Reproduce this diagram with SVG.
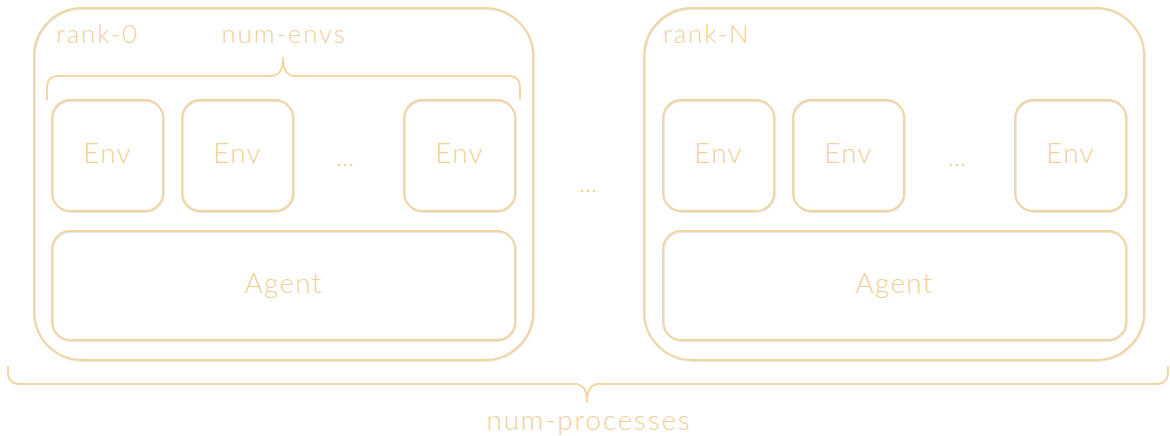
<svg xmlns="http://www.w3.org/2000/svg" width="1170" height="436" viewBox="0 0 1170 436">
  <defs>
    <filter id="shade" x="-5%" y="-5%" width="110%" height="110%">
      <feDropShadow dx="0.7" dy="0.7" stdDeviation="0.25" flood-color="#a89f92" flood-opacity="0.35"/>
    </filter>
  </defs>
  <style>
    .box { fill: none; stroke: #f0d5a0; stroke-width: 1.8; filter: url(#shade); }
    .brace { fill: none; stroke: #f2d7a3; stroke-width: 2; stroke-linejoin: round; }
    .lbl { fill: #efd09a; font-family: "Lato", "Open Sans", sans-serif; font-weight: 300; letter-spacing: 1.8px; }
    .env { font-size: 28px; text-anchor: middle; letter-spacing: 1.2px; }
    .dots { font-size: 26px; text-anchor: middle; letter-spacing: 0; }
  </style>

  <!-- process rank-0 -->
  <g id="rank0">
    <rect class="box" x="34" y="8" width="499" height="352" rx="48"/>
    <text class="lbl" x="56" y="43" font-size="26">rank-0</text>
  </g>
  <g id="rank0-envs">
    <text class="lbl" x="284" y="43" font-size="26" text-anchor="middle">num-envs</text>
    <path class="brace" d="M47,100 V88 Q47,76 59,76 H271 Q283,76 283,58 Q283,76 295,76 H508 Q520,76 520,88 V100"/>
  </g>
  <g id="rank0-env1">
    <rect class="box" x="52" y="100" width="111" height="111" rx="18"/>
    <text class="lbl env" x="107.5" y="163">Env</text>
  </g>
  <g id="rank0-env2">
    <rect class="box" x="182" y="100" width="111" height="111" rx="18"/>
    <text class="lbl env" x="237.5" y="163">Env</text>
  </g>
  <text class="lbl dots" x="345" y="166">...</text>
  <g id="rank0-env3">
    <rect class="box" x="404" y="100" width="111" height="111" rx="18"/>
    <text class="lbl env" x="459.5" y="163">Env</text>
  </g>
  <g id="rank0-agent">
    <rect class="box" x="52" y="231" width="463" height="109" rx="18"/>
    <text class="lbl env" x="283.5" y="293">Agent</text>
  </g>

  <text class="lbl dots" x="588" y="192">...</text>

  <!-- process rank-N -->
  <g id="rankN">
    <rect class="box" x="644" y="8" width="500" height="352" rx="48"/>
    <text class="lbl" x="663" y="43" font-size="26">rank-N</text>
  </g>
  <g id="rankN-env1">
    <rect class="box" x="663" y="100" width="111" height="111" rx="18"/>
    <text class="lbl env" x="718.5" y="163">Env</text>
  </g>
  <g id="rankN-env2">
    <rect class="box" x="793" y="100" width="111" height="111" rx="18"/>
    <text class="lbl env" x="848.5" y="163">Env</text>
  </g>
  <text class="lbl dots" x="957" y="166">...</text>
  <g id="rankN-env3">
    <rect class="box" x="1015" y="100" width="111" height="111" rx="18"/>
    <text class="lbl env" x="1070.5" y="163">Env</text>
  </g>
  <g id="rankN-agent">
    <rect class="box" x="663" y="231" width="463" height="109" rx="18"/>
    <text class="lbl env" x="894.5" y="293">Agent</text>
  </g>

  <!-- brace spanning all processes -->
  <g id="processes">
    <path class="brace" d="M8,366 V372 Q8,384 20,384 H575 Q587,384 587,402 Q587,384 599,384 H1156 Q1168,384 1168,372 V366"/>
    <text class="lbl" x="589" y="430" font-size="28" text-anchor="middle">num-processes</text>
  </g>
</svg>
